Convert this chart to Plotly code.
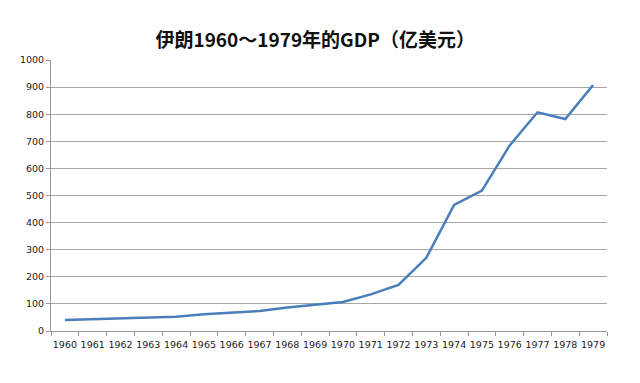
import plotly.graph_objects as go

years = [str(y) for y in range(1960, 1980)]
gdp = [41, 44, 47, 50, 53, 62, 67, 74, 87, 98, 107, 135, 170, 270, 465, 518, 685, 807, 782, 908]
y_ticks = list(range(0, 1001, 100))

fig = go.Figure()
fig.add_trace(go.Scatter(x=years, y=gdp, mode="lines",
                         line=dict(color="#4a7ebb", width=2.5)))

fig.update_layout(
    width=640, height=383,
    margin=dict(l=34, r=41, t=52, b=60),
    paper_bgcolor="white", plot_bgcolor="white",
    showlegend=False,
    title=dict(text="<b>伊朗1960～1979年的GDP（亿美元）</b>", x=0.48, xanchor="center",
               y=0.915, yanchor="middle",
               font=dict(family="Noto Sans CJK SC", size=19, color="#111")),
    xaxis=dict(type="category", tickson="boundaries", ticks="outside", ticklen=4,
               tickcolor="#999", showline=True, linecolor="#999", linewidth=1,
               showgrid=False, tickfont=dict(family="DejaVu Sans", size=9.5, color="#222"),
               tickangle=0, range=[-0.5, 19.5], ticklabelstandoff=5),
    yaxis=dict(range=[0, 1000], tickvals=y_ticks, ticks="outside", ticklen=4,
               tickcolor="#999", showline=True, linecolor="#999", linewidth=1,
               showgrid=True, gridcolor="#a6a6a6", gridwidth=1, zeroline=False,
               tickfont=dict(family="DejaVu Sans", size=9.5, color="#222")),
)

fig.write_html("out.html")
